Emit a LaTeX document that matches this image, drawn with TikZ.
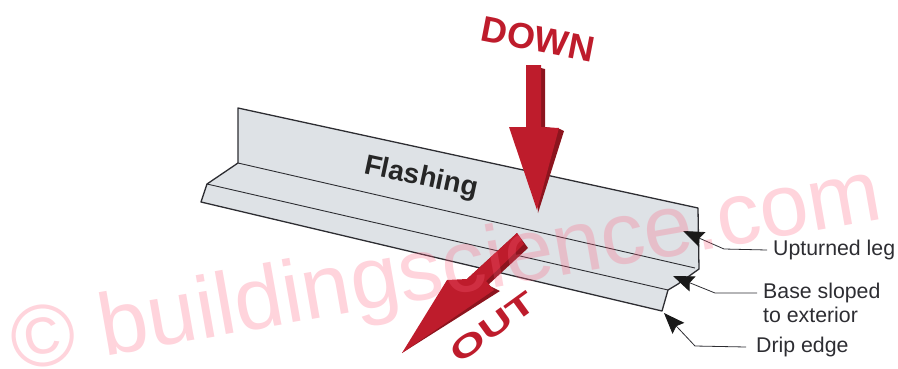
\documentclass[tikz,border=0pt]{standalone}
\usepackage{fontspec}
\setmainfont{Liberation Sans}
\usetikzlibrary{arrows.meta}
\definecolor{arrowred}{RGB}{190,28,44}
\definecolor{arrowdark}{RGB}{140,20,30}
\definecolor{sheet}{RGB}{222,226,230}
\definecolor{ink}{RGB}{45,45,50}
\definecolor{wm}{RGB}{255,95,125}
\tikzset{
  sheetline/.style={draw=ink,line width=1.3pt,line join=round},
  crease/.style={draw=ink,line width=.9pt},
  bigarrow/.style={fill=arrowred,draw=none},
  bigshade/.style={fill=arrowdark,draw=none},
  calllabel/.style={font=\fontsize{21.3}{23.5}\selectfont,text=ink,anchor=west,inner sep=0pt,align=left},
  leader/.style={draw=ink,line width=.8pt,{Stealth[length=21pt,width=16pt,inset=3pt,color=black!90]}-},
  redword/.style={font=\fontsize{36}{40}\selectfont\bfseries,text=arrowred,inner sep=0pt},
}
\begin{document}
\begin{tikzpicture}[x=1pt,y=-1pt]
\useasboundingbox (0,0) rectangle (898,368);
% flashing
\path[fill=sheet] (238,108) -- (698,208) -- (699,269) -- (678,284) -- (668,290) -- (662,311) -- (201,202) -- (207,184) -- (238,163) -- cycle;
\draw[sheetline] (238,163) -- (238,108) -- (698,208) -- (699,269) -- (678,284) -- (668,290) -- (662,311) -- (201,202) -- (207,184) -- (238,163);
\draw[crease] (238,163) -- (695,268);
\draw[crease] (207,184) -- (668,290);
\node[font=\fontsize{28}{32}\selectfont\bfseries,text=black!85,rotate=-12,inner sep=0pt] (flashlabel) at (421,178) {Flashing};
% down arrow
\path[bigshade] (533,66) -- (545,69) -- (545,127) -- (560,129) -- (564,131) -- (538,213) -- cycle;
\path[bigarrow] (526,65) -- (541,65) -- (541,127) -- (559,128) -- (537,210) -- (509,127) -- (526,127) -- cycle;
\node[redword,rotate=-11] (down) at (538,39) {DOWN};
% out arrow
\path[bigshade] (517,233) -- (528,248) -- (488,285) -- (500,291) -- (402,353) -- (467,279) -- cycle;
\path[bigarrow] (517,233) -- (524,244) -- (486,281) -- (494,290) -- (402,353) -- (447,280) -- (467,279) -- cycle;
\node[redword,rotate=36,font=\fontsize{30}{32}\selectfont\bfseries] (out) at (493,327) {\scalebox{1.55}[1]{OUT}};
% labels
\node[calllabel] (leg) at (773,250) {Upturned leg};
\node[calllabel,anchor=north west] (base) at (763,283) {Base sloped\\to exterior};
\node[calllabel] (drip) at (756,347) {Drip edge};
\coordinate (legtip) at (683,231);
\coordinate (basetip) at (673,276);
\coordinate (driptip) at (664,313);
\coordinate (baseend) at (757,293);
\draw[leader] (legtip) -- (724,249) -- ([xshift=-6pt]leg.west);
\draw[leader] (basetip) -- (715,293) -- (baseend);
\draw[leader] (driptip) -- (695,346) -- ([xshift=-10pt]drip.west);
% watermark
\node[opacity=.27,text=wm,font=\fontsize{88}{94}\selectfont,rotate=10,inner sep=0pt,anchor=base] (mark) at (451,295) {© buildingscience.com};
\end{tikzpicture}
\end{document}
